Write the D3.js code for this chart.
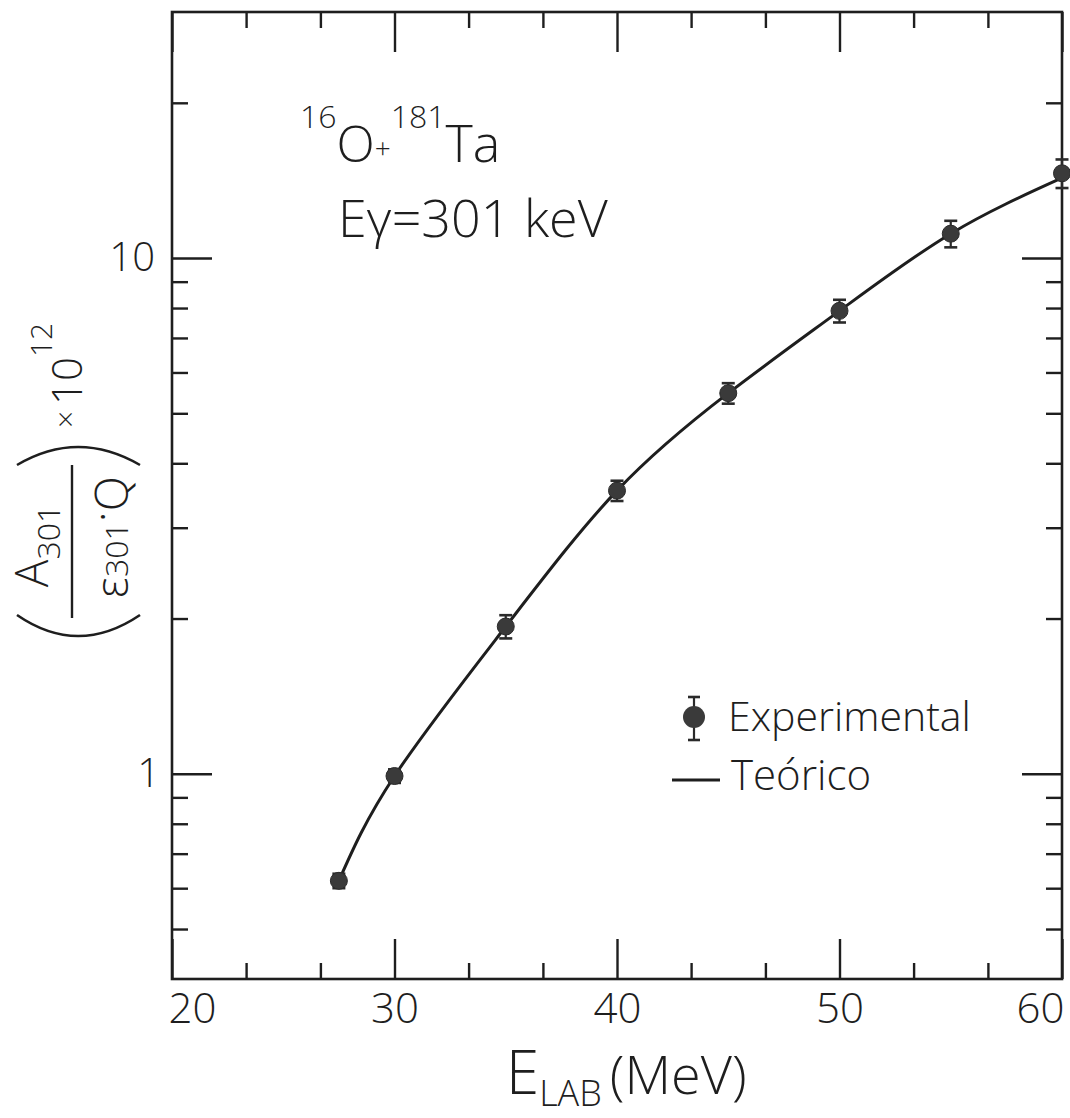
<!DOCTYPE html>
<html>
<head>
<meta charset="utf-8">
<script src="https://cdn.jsdelivr.net/npm/d3@7"></script>
<style>
  body { margin: 0; background: #fff; }
  svg { display: block; }
  text { font-family: 'Open Sans', 'DejaVu Sans', sans-serif; font-weight: 300; fill: #1e1e1e; }
  .axis line { stroke: #1e1e1e; stroke-width: 2.4; }
  .axis .domain { display: none; }
</style>
</head>
<body>
<div id="chart"></div>
<script>
// Measured points (E_LAB in MeV, yield x 10^12)
const energies = [27.5, 30, 35, 40, 45, 50, 55, 60];
const yields = [0.62, 0.99, 1.93, 3.54, 5.47, 7.9, 11.15, 14.6];
const yieldErrors = [0.02, 0.03, 0.10, 0.16, 0.25, 0.40, 0.66, 0.93];

// Theoretical curve
const theoryEnergies = [27.5, 30, 35, 40, 45, 50, 55, 60];
const theoryYields = [0.62, 0.99, 1.93, 3.54, 5.47, 7.9, 11.15, 14.3];

// Ticks
const xTickValues = [20, 30, 40, 50, 60];
const xMinorTicks = [23.33, 26.67, 33.33, 36.67, 43.33, 46.67, 53.33, 56.67];
const yTickValues = [1, 10];
const yMinorTicks = [0.5, 0.6, 0.7, 0.8, 0.9, 2, 3, 4, 5, 6, 7, 8, 9, 20];

const config = {
  width: 1070,
  height: 1118,
  margin: {top: 12, right: 8, bottom: 139, left: 172},
  majorTick: 40,
  minorTick: 16
};

const vis = {};
vis.innerW = config.width - config.margin.left - config.margin.right;
vis.innerH = config.height - config.margin.top - config.margin.bottom;

vis.svg = d3.select('#chart').append('svg')
    .attr('width', config.width)
    .attr('height', config.height);

vis.chart = vis.svg.append('g')
    .attr('transform', `translate(${config.margin.left},${config.margin.top})`);

vis.xScale = d3.scaleLinear().domain([20, 60]).range([0, vis.innerW]);
vis.yScale = d3.scaleLog().domain([0.4, 30]).range([vis.innerH, 0]);

// Inward-pointing ticks on all four sides
function addTicks(axisFn, scale, values, size, transform, labels) {
  const axis = axisFn(scale)
      .tickValues(values)
      .tickSize(-size)
      .tickSizeOuter(0)
      .tickPadding(labels ? 14 : 0)
      .tickFormat(labels ? d => d : '');
  return vis.chart.append('g')
      .attr('class', 'axis')
      .attr('transform', transform)
      .call(axis);
}

const bottomMajor = addTicks(d3.axisBottom, vis.xScale, xTickValues, config.majorTick, `translate(0,${vis.innerH})`, true);
addTicks(d3.axisBottom, vis.xScale, xMinorTicks, config.minorTick, `translate(0,${vis.innerH})`, false);
addTicks(d3.axisTop, vis.xScale, xTickValues, config.majorTick, 'translate(0,0)', false);
addTicks(d3.axisTop, vis.xScale, xMinorTicks, config.minorTick, 'translate(0,0)', false);

const leftMajor = addTicks(d3.axisLeft, vis.yScale, yTickValues, config.majorTick, 'translate(0,0)', true);
addTicks(d3.axisLeft, vis.yScale, yMinorTicks, config.minorTick, 'translate(0,0)', false);
addTicks(d3.axisRight, vis.yScale, yTickValues, config.majorTick, `translate(${vis.innerW},0)`, false);
addTicks(d3.axisRight, vis.yScale, yMinorTicks, config.minorTick, `translate(${vis.innerW},0)`, false);

bottomMajor.selectAll('text')
    .attr('font-size', 42)
    .attr('dy', '0.71em')
    .attr('fill', '#1e1e1e')
    .attr('dx', d => d === 20 ? 20 : d === 60 ? -22 : 0);

leftMajor.selectAll('text')
    .attr('font-size', 40)
    .attr('fill', '#1e1e1e')
    .attr('dx', d => d === 1 ? 2 : -3);

// Frame
vis.chart.append('rect')
    .attr('width', vis.innerW)
    .attr('height', vis.innerH)
    .attr('fill', 'none')
    .attr('stroke', '#1e1e1e')
    .attr('stroke-width', 2.6);

// Theory curve
const line = d3.line()
    .x((d, i) => vis.xScale(theoryEnergies[i]))
    .y(d => vis.yScale(d))
    .curve(d3.curveNatural);

vis.chart.append('path')
    .datum(theoryYields)
    .attr('fill', 'none')
    .attr('stroke', '#1e1e1e')
    .attr('stroke-width', 3)
    .attr('d', line);

// Experimental points with error bars
const points = energies.map((e, i) => ({e: e, y: yields[i], err: yieldErrors[i]}));

const pts = vis.chart.append('g').selectAll('.pt')
    .data(points)
    .join('g')
    .attr('class', 'pt');

pts.append('line')
    .attr('x1', d => vis.xScale(d.e))
    .attr('x2', d => vis.xScale(d.e))
    .attr('y1', d => vis.yScale(d.y - d.err))
    .attr('y2', d => vis.yScale(d.y + d.err))
    .attr('stroke', '#2a2a2a')
    .attr('stroke-width', 2.2);

pts.selectAll('.cap')
    .data(d => [d.y - d.err, d.y + d.err].map(v => ({e: d.e, v: v})))
    .join('line')
    .attr('class', 'cap')
    .attr('x1', d => vis.xScale(d.e) - 6.5)
    .attr('x2', d => vis.xScale(d.e) + 6.5)
    .attr('y1', d => vis.yScale(d.v))
    .attr('y2', d => vis.yScale(d.v))
    .attr('stroke', '#2a2a2a')
    .attr('stroke-width', 2.6);

pts.append('circle')
    .attr('cx', d => vis.xScale(d.e))
    .attr('cy', d => vis.yScale(d.y))
    .attr('r', 8.5)
    .attr('fill', '#3a3a3a')
    .attr('stroke', '#2a2a2a')
    .attr('stroke-width', 1);

// Annotation
const note = vis.svg.append('g');
const reaction = note.append('text')
    .attr('x', 300)
    .attr('y', 162)
    .attr('font-size', 50);
reaction.append('tspan').attr('font-size', 32).attr('dy', -34).text('16');
reaction.append('tspan').attr('dy', 34).text('O');
reaction.append('tspan').attr('font-size', 28).attr('dy', -4).text('+');
reaction.append('tspan').attr('font-size', 32).attr('dy', -30).text('181');
reaction.append('tspan').attr('dy', 34).attr('font-size', 52).text('Ta');

note.append('text')
    .attr('x', 338)
    .attr('y', 237)
    .attr('font-size', 52)
    .text('Eγ=301 keV');

// Legend
const legend = vis.svg.append('g');
legend.append('line')
    .attr('x1', 694).attr('x2', 694).attr('y1', 697).attr('y2', 740)
    .attr('stroke', '#2a2a2a').attr('stroke-width', 2.2);
legend.selectAll('.lcap')
    .data([697, 740])
    .join('line')
    .attr('x1', 688).attr('x2', 700)
    .attr('y1', d => d).attr('y2', d => d)
    .attr('stroke', '#2a2a2a').attr('stroke-width', 2.6);
legend.append('circle')
    .attr('cx', 694).attr('cy', 717).attr('r', 11)
    .attr('fill', '#3a3a3a');
legend.append('text')
    .attr('x', 728).attr('y', 731)
    .attr('font-size', 41)
    .text('Experimental');
legend.append('line')
    .attr('x1', 672).attr('x2', 720).attr('y1', 780).attr('y2', 780)
    .attr('stroke', '#1e1e1e').attr('stroke-width', 3);
legend.append('text')
    .attr('x', 731).attr('y', 790)
    .attr('font-size', 42)
    .text('Teórico');

// X axis title
const xTitle = vis.svg.append('text')
    .attr('x', 506)
    .attr('y', 1094)
    .attr('font-size', 60);
xTitle.append('tspan').text('E');
xTitle.append('tspan').attr('font-size', 36).attr('dy', 12).text('LAB');
xTitle.append('tspan').attr('font-size', 54).attr('dy', -12).attr('dx', 8).text('(MeV)');

// Y axis title, rotated: local x = -screenY, local y = screenX
const yTitle = vis.svg.append('g').attr('transform', 'rotate(-90)');

yTitle.append('line')
    .attr('x1', -618).attr('x2', -465).attr('y1', 72).attr('y2', 72)
    .attr('stroke', '#1e1e1e').attr('stroke-width', 2.4);

const num = yTitle.append('text')
    .attr('x', -546).attr('y', 48)
    .attr('text-anchor', 'middle')
    .attr('font-size', 46);
num.append('tspan').text('A');
num.append('tspan').attr('font-size', 32).attr('dy', 12).text('301');

const den = yTitle.append('text')
    .attr('x', -537).attr('y', 128)
    .attr('text-anchor', 'middle')
    .attr('font-size', 46);
den.append('tspan').text('ε');
den.append('tspan').attr('font-size', 32).text('301');
den.append('tspan').attr('dy', -10).text('·');
den.append('tspan').attr('dy', 10).text('Q');

yTitle.selectAll('.paren')
    .data([
      'M -615,17 Q -657,78 -615,140',
      'M -465,17 Q -429,78 -465,140'
    ])
    .join('path')
    .attr('class', 'paren')
    .attr('d', d => d)
    .attr('fill', 'none')
    .attr('stroke', '#1e1e1e')
    .attr('stroke-width', 2.6);

yTitle.append('text')
    .attr('x', -428).attr('y', 76)
    .attr('font-size', 30)
    .text('×');

const pow = yTitle.append('text')
    .attr('x', -405).attr('y', 82)
    .attr('font-size', 42);
pow.append('tspan').text('10');
pow.append('tspan').attr('font-size', 30).attr('dy', -30).text('12');
</script>
</body>
</html>
